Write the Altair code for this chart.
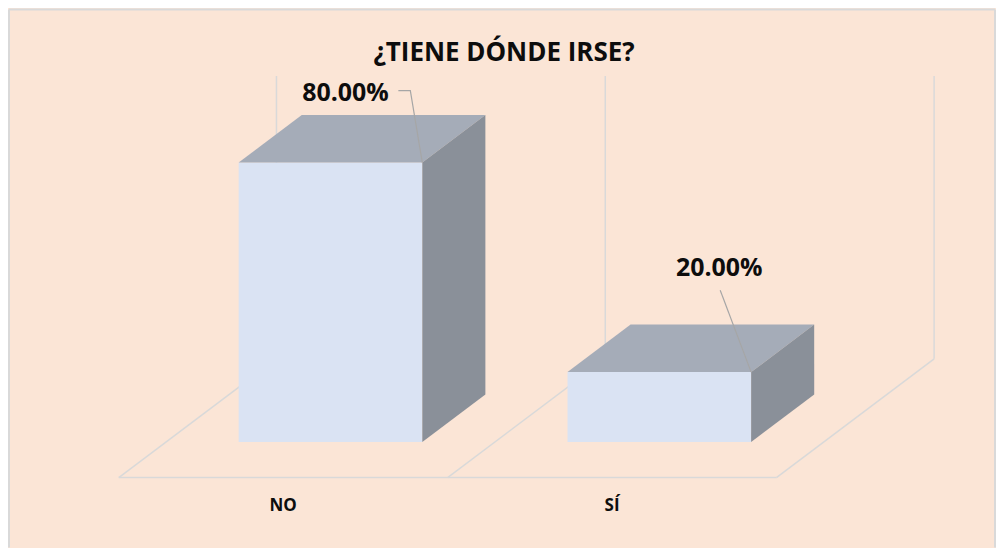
import altair as alt
import pandas as pd

# ---------------- data ----------------
categories = ["NO", "SÍ"]
values = [80.0, 20.0]            # percent
label_texts = ["80.00%", "20.00%"]
title_text = "¿TIENE DÓNDE IRSE?"

# ---------------- style / geometry ----------------
W, H = 990, 540
PX_X = 329.5        # pixels per category slot
PX_Y = 3.5          # pixels per percentage point
X0_PX = 111         # floor front-left corner (view px)
Y0_PX = 470         # floor front line (view px)
x_domain = [-X0_PX / PX_X, (W - X0_PX) / PX_X]
y_domain = [(Y0_PX - H) / PX_Y, Y0_PX / PX_Y]
DX = 158 / PX_X     # depth vector of floor, in data units
DY = 119 / PX_Y
D_FRONT, D_BACK = 0.30, 0.70
BAR_W = 184 / PX_X
WALL_TOP = 81

FRONT_COL = "#DAE3F3"
TOP_COL = "#A5ACB8"
SIDE_COL = "#8A9099"
GRID_COL = "#D9D9D9"
LEADER_COL = "#A6A6A6"
BG_COL = "#FBE5D6"
FONT = "Open Sans"

# label placement offsets relative to the front-top-right corner (px)
label_off = [(-77, -70), (-32, -104)]
leader_off = [[(-24, -72), (-12, -72), (0, 0)], [(-31, -82), (0, 0)]]

xs = alt.Scale(domain=x_domain, nice=False, zero=False)
ys = alt.Scale(domain=y_domain, nice=False, zero=False)
X = lambda f: alt.X(f, type="quantitative", scale=xs, axis=None)
Y = lambda f: alt.Y(f, type="quantitative", scale=ys, axis=None)

# ---------------- build geometry tables ----------------
front_rows, top_rows, side_rows, lab_rows, lead_rows = [], [], [], [], []
ddx = (D_BACK - D_FRONT) * DX
ddy = (D_BACK - D_FRONT) * DY
for i, (c, v) in enumerate(zip(categories, values)):
    xl = i + D_FRONT * DX + (1 - BAR_W) / 2
    xr = xl + BAR_W
    yb = D_FRONT * DY
    yt = yb + v
    front_rows.append(dict(cat=c, x=xl, x2=xr, y=yb, y2=yt))
    top_rows += [dict(cat=c, y=yt, x=xl, x2=xr),
                 dict(cat=c, y=yt + ddy, x=xl + ddx, x2=xr + ddx)]
    side_rows += [dict(cat=c, x=xr, y=yb, y2=yt),
                  dict(cat=c, x=xr + ddx, y=yb + ddy, y2=yt + ddy)]
    ox, oy = label_off[i]
    lab_rows.append(dict(cat=c, text=label_texts[i],
                         x=xr + ox / PX_X, y=yt - oy / PX_Y))
    for k, (lx, ly) in enumerate(leader_off[i]):
        lead_rows.append(dict(cat=c, k=k, x=xr + lx / PX_X, y=yt - ly / PX_Y))

n = len(categories)
grid_rows = [dict(x=0, y=0, x2=n, y2=0)]
for i in range(n + 1):
    grid_rows.append(dict(x=i, y=0, x2=i + DX, y2=DY))
    grid_rows.append(dict(x=i + DX, y=DY, x2=i + DX, y2=DY + WALL_TOP))

axis_rows = [dict(cat=c, x=i + 0.5, y=-8) for i, c in enumerate(categories)]

front_df = pd.DataFrame(front_rows)
top_df = pd.DataFrame(top_rows)
side_df = pd.DataFrame(side_rows)
lab_df = pd.DataFrame(lab_rows)
lead_df = pd.DataFrame(lead_rows)
grid_df = pd.DataFrame(grid_rows)
axis_df = pd.DataFrame(axis_rows)

# ---------------- layers ----------------
grid = alt.Chart(grid_df).mark_rule(color=GRID_COL, strokeWidth=1.5).encode(
    x=X("x"), y=Y("y"), x2="x2", y2="y2")

front = alt.Chart(front_df).mark_rect(color=FRONT_COL).encode(
    x=X("x"), x2="x2", y=Y("y"), y2="y2")

top = alt.Chart(top_df).mark_area(orient="horizontal", color=TOP_COL).encode(
    y=Y("y"), x=X("x"), x2="x2", detail="cat:N")

side = alt.Chart(side_df).mark_area(orient="vertical", color=SIDE_COL).encode(
    x=X("x"), y=Y("y"), y2="y2", detail="cat:N")

leaders = alt.Chart(lead_df).mark_line(color=LEADER_COL, strokeWidth=1.2).encode(
    x=X("x"), y=Y("y"), detail="cat:N", order="k:Q")

labels = alt.Chart(lab_df).mark_text(
    font=FONT, fontSize=25, fontWeight="bold", color="#0D0D0D",
    align="center", baseline="middle").encode(
    x=X("x"), y=Y("y"), text="text:N")

axis_labels = alt.Chart(axis_df).mark_text(
    font=FONT, fontSize=17, fontWeight="bold", color="#0D0D0D",
    align="center", baseline="middle").encode(
    x=X("x"), y=Y("y"), text="cat:N")

title = alt.Chart(pd.DataFrame({"t": [title_text]})).mark_text(
    font=FONT, fontSize=26, fontWeight="bold", color="#0D0D0D",
    align="center", baseline="middle").encode(
    x=alt.value(497), y=alt.value(45), text="t:N")

border = alt.Chart(pd.DataFrame({"s": ["top", "left", "right"],
                                 "x": [1, 1, W - 1], "x2": [W - 1, 1, W - 1],
                                 "y": [1, 1, 1], "y2": [1, H, H]})).mark_rule(
    color=GRID_COL, strokeWidth=2).encode(
    x=alt.X("x:Q", scale=alt.Scale(domain=[0, W], range=[0, W], nice=False), axis=None),
    x2="x2:Q",
    y=alt.Y("y:Q", scale=alt.Scale(domain=[0, H], range=[0, H], nice=False), axis=None),
    y2="y2:Q")

chart = alt.layer(grid, front, top, side, leaders, labels, axis_labels, title
                  ).resolve_scale(x="shared", y="shared")
chart = alt.layer(chart, border).resolve_scale(x="independent", y="independent").properties(
    width=W, height=H, padding=0,
    autosize=alt.AutoSizeParams(type="none"),
    background=BG_COL,
).configure_view(stroke=None)

chart.save("out.html", embed_options={"renderer": "svg", "actions": False})
